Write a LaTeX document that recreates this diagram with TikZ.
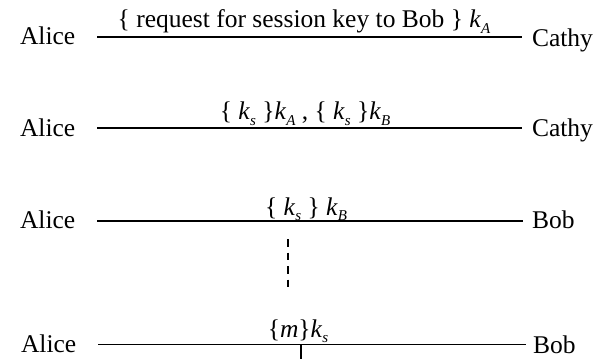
\documentclass[tikz,border=0pt]{standalone}
\usepackage{fontspec}
\setmainfont{Liberation Serif}
\newcommand{\kx}[1]{\textit{k}\raisebox{-0.22em}{\fontsize{15}{15}\selectfont\textit{#1}}}
\begin{document}
\begin{tikzpicture}[x=1pt,y=-1pt,
  every node/.style={inner sep=0pt,outer sep=0pt,font=\fontsize{25.5}{30}\selectfont},
  party/.style={anchor=base west},
  msgline/.style={line width=1.2pt},
  msglabel/.style={anchor=base}]
\useasboundingbox (0,0) rectangle (601,358);
% row 1
\node[party] (a1) at (20,45) {Alice};
\node[party] (c1) at (532,47) {Cathy};
\coordinate (a1e) at (97,37);
\coordinate (c1w) at (522,37);
\draw[msgline] (a1e) -- (c1w);
\node[msglabel] (l1) at (304,28) {\{ request for session key to Bob \} \kx{A}};
% row 2
\node[party] (a2) at (20,137) {Alice};
\node[party] (c2) at (532,137) {Cathy};
\coordinate (a2e) at (97,128);
\coordinate (c2w) at (522,128);
\draw[msgline] (a2e) -- (c2w);
\node[msglabel] (l2) at (305,120) {\{ \kx{s} \}\kx{A} , \{ \kx{s} \}\kx{B}};
% row 3
\node[party] (a3) at (20,228) {Alice};
\node[party] (b3) at (532,228) {Bob};
\coordinate (a3e) at (97,221);
\coordinate (b3w) at (523,221);
\draw[msgline] (a3e) -- (b3w);
\node[msglabel] (l3) at (306,215) {\{ \kx{s} \} \kx{B}};
% dashed gap
\coordinate (d1) at (288,239);
\coordinate (d2) at (288,287);
\draw[msgline,dash pattern=on 7.5pt off 6pt] (d1) -- (d2);
% row 4
\node[party] (a4) at (21,352) {Alice};
\node[party] (b4) at (533,353.5) {Bob};
\coordinate (a4e) at (98,344.5);
\coordinate (b4w) at (526,344.5);
\draw[msgline] (a4e) -- (b4w);
\node[msglabel] (l4) at (298,337) {\{\textit{m}\}\kx{s}};
\coordinate (t1) at (301,344.5);
\coordinate (t2) at (301,360);
\draw[msgline] (t1) -- (t2);
\end{tikzpicture}
\end{document}
